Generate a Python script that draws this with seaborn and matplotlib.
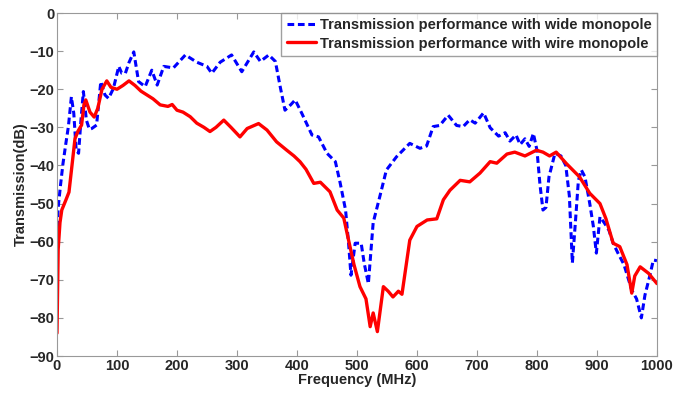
import numpy as np
import pandas as pd
import matplotlib.pyplot as plt
import seaborn as sns

# wide monopole (blue dashed)
wide_freq = [0, 2, 6, 10, 15, 19, 24, 28, 32, 36, 40, 44, 49, 54, 58, 66, 73, 80, 86, 94,
             103, 108, 114, 120, 128, 136, 147, 158, 167, 178, 194, 214, 233, 250, 258, 272,
             291, 308, 328, 339, 353, 364, 372, 380, 390, 397, 408, 425, 436, 450, 464, 472,
             481, 486, 490, 497, 507, 512, 519, 527, 538, 549, 566, 588, 605, 616, 627, 638,
             652, 666, 677, 688, 697, 711, 722, 736, 747, 755, 765, 772, 780, 787, 794, 800,
             805, 810, 815, 820, 830, 840, 848, 854, 859, 864, 869, 874, 880, 888, 894, 899,
             905, 912, 920, 927, 935, 945, 958, 966, 974, 980, 988, 994, 1000]
wide_db = [-59, -51, -45, -39.5, -34, -29.8, -22, -26.3, -36, -36.8, -28, -20.6, -28.1, -30.5,
           -30.3, -29.4, -18, -21.5, -22.4, -19.8, -14, -15.8, -15.8, -13, -10.2, -18, -19.3,
           -15, -18.9, -14, -14.4, -11, -12.9, -14, -15.8, -12.9, -11, -15.4, -10.2, -12.7, -11,
           -12.7, -19.3, -25.5, -24, -22.8, -26.3, -32, -32.5, -36.8, -39, -44.6, -51.7, -60.4,
           -68.8, -60.4, -60.4, -65.6, -71, -55, -48.2, -41.2, -37.7, -34.2, -35.5, -34.9, -29.8,
           -29.5, -26.8, -29.5, -29.8, -28, -28.9, -26.2, -30.1, -32.3, -31.4, -33.6, -32, -34.5,
           -33, -35, -31.6, -36, -45, -51.7, -51, -43, -36.8, -37.5, -40, -48, -65.6, -55, -44,
           -41.2, -43, -50, -56, -63, -53.5, -55, -57, -60.4, -63, -66, -72.7, -75, -80, -74, -69,
           -64.8, -65]

# wire monopole (red solid)
wire_freq = [0, 2, 5, 8, 15, 20, 25, 30, 35, 41, 45, 48, 55, 62, 68, 75, 83, 90, 100, 110,
             120, 130, 140, 150, 160, 172, 185, 192, 200, 210, 222, 233, 245, 255, 265, 278,
             290, 305, 317, 336, 350, 366, 383, 395, 405, 415, 428, 439, 455, 467, 478, 486,
             495, 505, 515, 522, 527, 534, 544, 552, 560, 569, 575, 588, 600, 617, 633, 644,
             655, 672, 688, 705, 722, 733, 750, 763, 780, 799, 810, 821, 832, 849, 871, 888,
             905, 915, 927, 938, 950, 958, 963, 972, 986, 1000]
wire_db = [-84, -62, -55, -51.7, -49, -47, -40, -33, -31, -29.4, -24, -22.8, -26, -27.3, -25,
           -20, -17.8, -19.5, -20, -19, -17.8, -19, -20.5, -21.5, -22.5, -24.1, -24.5, -24,
           -25.5, -26, -27.2, -28.9, -30, -31.1, -30, -28.1, -30, -32.5, -30.3, -29, -30.7,
           -33.8, -36, -37.5, -39, -41, -44.7, -44.4, -46.9, -51.7, -53.8, -59.6, -66, -71.8,
           -75, -82.3, -78.7, -83.6, -71.8, -73, -74.5, -73, -73.8, -59.6, -56, -54.3, -54,
           -49, -46.5, -43.9, -44.3, -42, -39, -39.4, -37, -36.5, -37.5, -36, -36.5, -37.5,
           -36.5, -39.5, -43, -47.3, -50, -54, -60.4, -61.3, -66, -73.5, -69, -66.6, -68.3, -71]

label_wide = 'Transmission performance with wide monopole'
label_wire = 'Transmission performance with wire monopole'

wide = pd.DataFrame({'freq': wide_freq, 'db': wide_db})
wire = pd.DataFrame({'freq': wire_freq, 'db': wire_db})

sns.set_style('ticks')
plt.rcParams['font.family'] = ['Liberation Sans', 'DejaVu Sans']
plt.rcParams['font.weight'] = 'bold'
plt.rcParams['xtick.direction'] = 'in'
plt.rcParams['ytick.direction'] = 'in'

fig = plt.figure(figsize=(6.89, 3.95), dpi=100)
ax = fig.add_axes([0.0827, 0.0987, 0.8708, 0.8683])

sns.lineplot(data=wide, x='freq', y='db', ax=ax, color='#0000ff', lw=2.2,
             linestyle=(0, (2.2, 1.2)), label=label_wide)
sns.lineplot(data=wire, x='freq', y='db', ax=ax, color='#ff0000', lw=2.4, label=label_wire)

ax.set_xlim(0, 1000)
ax.set_ylim(-90, 0)
ax.set_xticks(np.arange(0, 1001, 100))
ax.set_yticks(np.arange(-90, 1, 10))
ax.tick_params(top=True, right=True, labelsize=10.5, length=4, color='#999999', pad=2)
for s in ax.spines.values():
    s.set_color('#999999')
ax.set_xlabel('Frequency (MHz)', fontsize=10.5, fontweight='bold', labelpad=0)
ax.set_ylabel('Transmission(dB)', fontsize=10.5, fontweight='bold', labelpad=1)

leg = ax.legend(loc='upper right', fontsize=10.5, frameon=True, fancybox=False,
                borderaxespad=0, handlelength=2.0, handletextpad=0.3,
                borderpad=0.35, labelspacing=0.3)
leg.get_frame().set_edgecolor('#888888')
leg.get_frame().set_linewidth(1.0)
for t in leg.get_texts():
    t.set_fontweight('bold')

fig.savefig('out.png', dpi=100)
